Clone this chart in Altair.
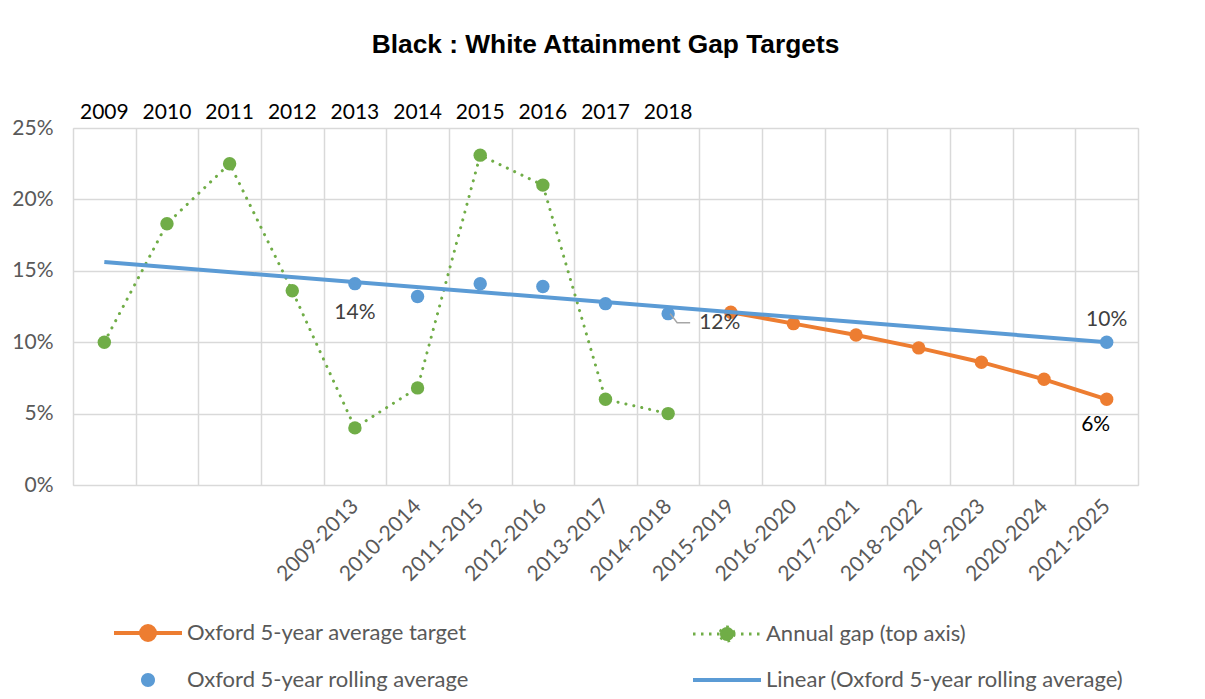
import json
import altair as alt
import pandas as pd

# ---------------- data ----------------
period_labels = ["", "", "", "", "2009-2013", "2010-2014", "2011-2015", "2012-2016",
                 "2013-2017", "2014-2018", "2015-2019", "2016-2020", "2017-2021",
                 "2018-2022", "2019-2023", "2020-2024", "2021-2025"]
year_labels = ["2009", "2010", "2011", "2012", "2013", "2014", "2015", "2016", "2017", "2018"]

annual_idx = list(range(10))
annual_gap = [0.100, 0.183, 0.225, 0.136, 0.040, 0.068, 0.231, 0.210, 0.060, 0.050]

rolling_idx = [4, 5, 6, 7, 8, 9, 16]
rolling_avg = [0.141, 0.132, 0.141, 0.139, 0.127, 0.120, 0.100]

target_idx = [10, 11, 12, 13, 14, 15, 16]
target_avg = [0.121, 0.113, 0.105, 0.096, 0.086, 0.074, 0.060]

label_idx = [4, 9, 16, 16]
label_val = [0.141, 0.120, 0.100, 0.060]
label_txt = ["14%", "12%", "10%", "6%"]

S_T = "Oxford 5-year average target"
S_G = "Annual gap (top axis)"
S_B = "Oxford 5-year rolling average"
S_L = "Linear (Oxford 5-year rolling average)"
# legend order (column-major: left column first)
series_names = [S_T, S_B, S_G, S_L]
series_colors = ["#ED7D31", "#5B9BD5", "#70AD47", "#5B9BD5"]

annual_df = pd.DataFrame({"i": annual_idx, "value": annual_gap, "series": S_G})
rolling_df = pd.DataFrame({"i": rolling_idx, "value": rolling_avg, "series": S_B})
target_df = pd.DataFrame({"i": target_idx, "value": target_avg, "series": S_T})
labels_df = pd.DataFrame({"i": label_idx, "value": label_val, "text": label_txt})

# ---------------- styling ----------------
FONT = "Lato"
FS = 21
GRID = "#D9D9D9"
W, H = 1065, 357

x_scale = alt.Scale(type="band", domain=list(range(17)), paddingInner=0, paddingOuter=0)
y_scale = alt.Scale(domain=[0, 0.25], nice=False, zero=True)

y_enc = alt.Y("value:Q", scale=y_scale, axis=alt.Axis(
    title=None, values=[0, 0.05, 0.10, 0.15, 0.20, 0.25], format=".0%",
    grid=True, gridColor=GRID, gridWidth=1.5, domain=False, ticks=False, tickSize=0,
    labelPadding=20, labelFont=FONT, labelFontSize=FS, labelColor="#595959"))

x_bottom = alt.X("i:O", scale=x_scale, axis=alt.Axis(
    title=None, labelExpr=json.dumps(period_labels) + "[datum.value]",
    labelAngle=-45, labelAlign="right", labelBaseline="middle", labelOverlap=False,
    tickBand="extent", grid=True, gridColor=GRID, gridWidth=1.5,
    domain=False, ticks=False, tickSize=0, labelPadding=18,
    labelFont=FONT, labelFontSize=FS, labelColor="#595959"))

x_top = alt.X("i:O", scale=x_scale, axis=alt.Axis(
    title=None, orient="top", values=list(range(10)),
    labelExpr=json.dumps(year_labels) + "[datum.value]",
    labelAngle=0, labelOverlap=False, grid=False, domain=False, ticks=False, tickSize=0,
    labelPadding=6, labelFont=FONT, labelFontSize=FS, labelColor="#000000"))

# legend symbols (unit = 10 px), drawn left of the nominal symbol box so labels clear them
line_path = "M-7.3,0L-0.5,0"
dot_path = "M-3.2,0A0.7,0.7,0,1,1,-4.6,0A0.7,0.7,0,1,1,-3.2,0Z"
shapes = [line_path + dot_path, dot_path, line_path + dot_path, line_path]

legend = alt.Legend(
    title=None, orient="none", legendX=114, legendY=505, columns=2, gridAlign="all",
    columnPadding=140, rowPadding=21, padding=0, symbolSize=400,
    labelLimit=800, labelFont=FONT, labelFontSize=22, labelColor="#595959",
    symbolType={"expr": json.dumps(shapes) + "[datum.index]"},
    symbolFillColor={"expr": json.dumps(["#ED7D31", "#5B9BD5", "#70AD47", "transparent"]) + "[datum.index]"},
    symbolStrokeColor={"expr": json.dumps(series_colors) + "[datum.index]"},
    symbolStrokeWidth={"expr": "[4, 0, 3, 4][datum.index]"},
    symbolDash={"expr": "datum.index === 2 ? [2.5, 5.5] : null"},
    symbolOpacity=1,
)

color = alt.Color("series:N", scale=alt.Scale(domain=series_names, range=series_colors), legend=legend)

# ---------------- layers ----------------
PT = 180
green_line = alt.Chart(annual_df).mark_line(
    strokeWidth=3, strokeDash=[0.1, 8], strokeCap="round").encode(x=x_top, y=y_enc, color=color)
green_pts = alt.Chart(annual_df).mark_point(
    filled=True, size=PT, opacity=1).encode(x=x_top, y=y_enc, color=color)
green_layer = alt.layer(green_line, green_pts)

orange_line = alt.Chart(target_df).mark_line(strokeWidth=4).encode(x=x_bottom, y=y_enc, color=color)
orange_pts = alt.Chart(target_df).mark_point(filled=True, size=PT, opacity=1).encode(
    x=x_bottom, y=y_enc, color=color)
blue_pts = alt.Chart(rolling_df).mark_point(filled=True, size=PT, opacity=1).encode(
    x=x_bottom, y=y_enc, color=color)

lab_base = alt.Chart(labels_df)
lab14 = lab_base.transform_filter("datum.text == '14%'").mark_text(
    font=FONT, fontSize=FS, color="#404040", dy=29).encode(x=x_bottom, y=y_enc, text="text:N")
lab12 = lab_base.transform_filter("datum.text == '12%'").mark_text(
    font=FONT, fontSize=FS, color="#404040", align="left", dx=31, dy=9).encode(
    x=x_bottom, y=y_enc, text="text:N")
lead12 = lab_base.transform_filter("datum.text == '12%'").mark_point(
    shape="M2,0L9,9L22,9", size=4, filled=False, strokeWidth=1.5, color="#A6A6A6", opacity=1).encode(
    x=x_bottom, y=y_enc)
lab10 = lab_base.transform_filter("datum.text == '10%'").mark_text(
    font=FONT, fontSize=FS, color="#404040", dy=-22).encode(x=x_bottom, y=y_enc, text="text:N")
lab6 = lab_base.transform_filter("datum.text == '6%'").mark_text(
    font=FONT, fontSize=FS, color="#000000", dx=-11, dy=26).encode(x=x_bottom, y=y_enc, text="text:N")

main_layer = alt.layer(orange_line, orange_pts, blue_pts, lead12, lab14, lab12, lab10, lab6)

trend = alt.Chart(rolling_df).transform_regression(
    "i", "value", extent=[0, 16]).transform_calculate(series="'" + S_L + "'").mark_line(
    strokeWidth=4).encode(
    x=alt.X("i:Q", scale=alt.Scale(domain=[-0.5, 16.5], nice=False, zero=False), axis=None),
    y=y_enc, color=color)

chart = alt.layer(green_layer, main_layer, trend).resolve_scale(x="independent").properties(
    width=W, height=H,
    padding={"left": 65, "top": 120, "right": 59, "bottom": 206},
    autosize=alt.AutoSizeParams(type="none"),
    title=alt.TitleParams("Black : White Attainment Gap Targets", font="Liberation Sans",
                          fontSize=26.3, fontWeight="bold", color="#000000", anchor="middle",
                          offset=43),
).configure_view(stroke=None).configure(background="#FFFFFF")

chart.save("out.html", embed_options={"renderer": "svg", "actions": False})
